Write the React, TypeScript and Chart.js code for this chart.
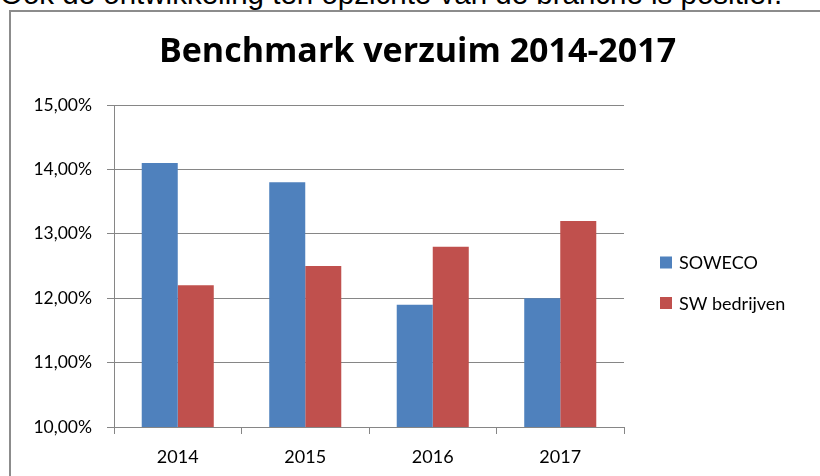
import React, { useEffect, useRef } from "react";
import { Chart, registerables } from "chart.js";

Chart.register(...registerables);

const HEADING = "Ook de ontwikkeling ten opzichte van de branche is positief.";
const TITLE = "Benchmark verzuim 2014-2017";
const YEARS = ["2014", "2015", "2016", "2017"];
const SOWECO = [14.1, 13.8, 11.9, 12.0];
const SW_BEDRIJVEN = [12.2, 12.5, 12.8, 13.2];
const SERIES_NAMES = ["SOWECO", "SW bedrijven"];
const Y_MIN = 10;
const Y_MAX = 15;
const Y_STEP = 1;

const FONT = "Lato, 'Open Sans', sans-serif";
const TITLE_FONT = "'Open Sans', Lato, sans-serif";
const GRID = "#868686";

const frame = {
  id: "frame",
  afterDraw(chart: any) {
    const ctx = chart.ctx;
    ctx.save();
    ctx.fillStyle = "#fff";
    ctx.fillRect(800, 13, 20, chart.height);
    ctx.strokeStyle = "#8c8c8c";
    ctx.lineWidth = 2;
    ctx.beginPath();
    ctx.moveTo(10, chart.height + 5);
    ctx.lineTo(10, 11);
    ctx.lineTo(chart.width + 5, 11);
    ctx.stroke();
    ctx.restore();
  },
};

const sideLegend = {
  id: "sideLegend",
  afterDraw(chart: any) {
    const ctx = chart.ctx;
    ctx.save();
    chart.data.datasets.forEach((ds: any, i: number) => {
      const y = 262.5 + i * 40.5;
      ctx.fillStyle = ds.backgroundColor;
      ctx.fillRect(660, y - 6, 12, 12);
      ctx.fillStyle = "#000";
      ctx.font = `18px ${FONT}`;
      ctx.textBaseline = "middle";
      ctx.textAlign = "left";
      ctx.fillText(ds.label, 679, y + 1);
    });
    ctx.restore();
  },
};

export default function App() {
  const ref = useRef<HTMLCanvasElement | null>(null);

  useEffect(() => {
    if (!ref.current) return;
    const chart = new Chart(ref.current, {
      type: "bar",
      data: {
        labels: YEARS,
        datasets: [
          {
            label: SERIES_NAMES[0],
            data: SOWECO,
            backgroundColor: "#4F81BD",
            categoryPercentage: 0.565,
            barPercentage: 1,
          },
          {
            label: SERIES_NAMES[1],
            data: SW_BEDRIJVEN,
            backgroundColor: "#C0504D",
            categoryPercentage: 0.565,
            barPercentage: 1,
          },
        ],
      },
      options: {
        animation: false,
        responsive: false,
        maintainAspectRatio: false,
        layout: { padding: { left: 15, right: 0, top: 0, bottom: 0 } },
        plugins: {
          legend: { display: false },
          tooltip: { enabled: false },
          title: {
            display: true,
            text: TITLE,
            color: "#000",
            font: { family: TITLE_FONT, size: 34, weight: "bold", lineHeight: 1.2 },
            padding: { top: 31.8, bottom: 32.4 },
          },
        },
        scales: {
          x: {
            offset: true,
            grid: {
              display: true,
              offset: true,
              drawOnChartArea: false,
              drawTicks: true,
              tickLength: 7,
              color: GRID,
            },
            border: { display: true, color: GRID },
            ticks: { color: "#000", font: { family: FONT, size: 18 }, padding: 12 },
            afterFit: (s: any) => {
              s.height = 49;
            },
          },
          y: {
            min: Y_MIN,
            max: Y_MAX,
            grid: { color: GRID, tickLength: 7, drawTicks: true },
            border: { display: true, color: GRID },
            ticks: {
              stepSize: Y_STEP,
              color: "#000",
              font: { family: FONT, size: 17.5 },
              padding: 15,
              callback: (v: any) => Number(v).toFixed(2).replace(".", ",") + "%",
            },
            afterFit: (s: any) => {
              s.width = 99;
            },
          },
          spacer: {
            type: "linear",
            position: "right",
            display: true,
            grid: { display: false, drawTicks: false, drawOnChartArea: false },
            border: { display: false },
            ticks: { display: false },
            afterFit: (s: any) => {
              s.width = 196;
            },
          },
        },
      } as any,
      plugins: [frame, sideLegend],
    });
    return () => chart.destroy();
  }, []);

  return (
    <div
      style={{
        position: "fixed",
        left: 0,
        top: 0,
        width: 820,
        height: 476,
        overflow: "hidden",
        background: "#fff",
      }}
    >
      <div
        style={{
          position: "absolute",
          left: 0,
          top: -21.5,
          fontFamily: "'Liberation Sans', Arial, sans-serif",
          fontSize: 29.5,
          lineHeight: "29px",
          whiteSpace: "nowrap",
          color: "#000",
        }}
      >
        {HEADING}
      </div>
      <canvas
        ref={ref}
        width={820}
        height={476}
        style={{ position: "absolute", left: 0, top: 0, width: 820, height: 476 }}
      />
    </div>
  );
}
